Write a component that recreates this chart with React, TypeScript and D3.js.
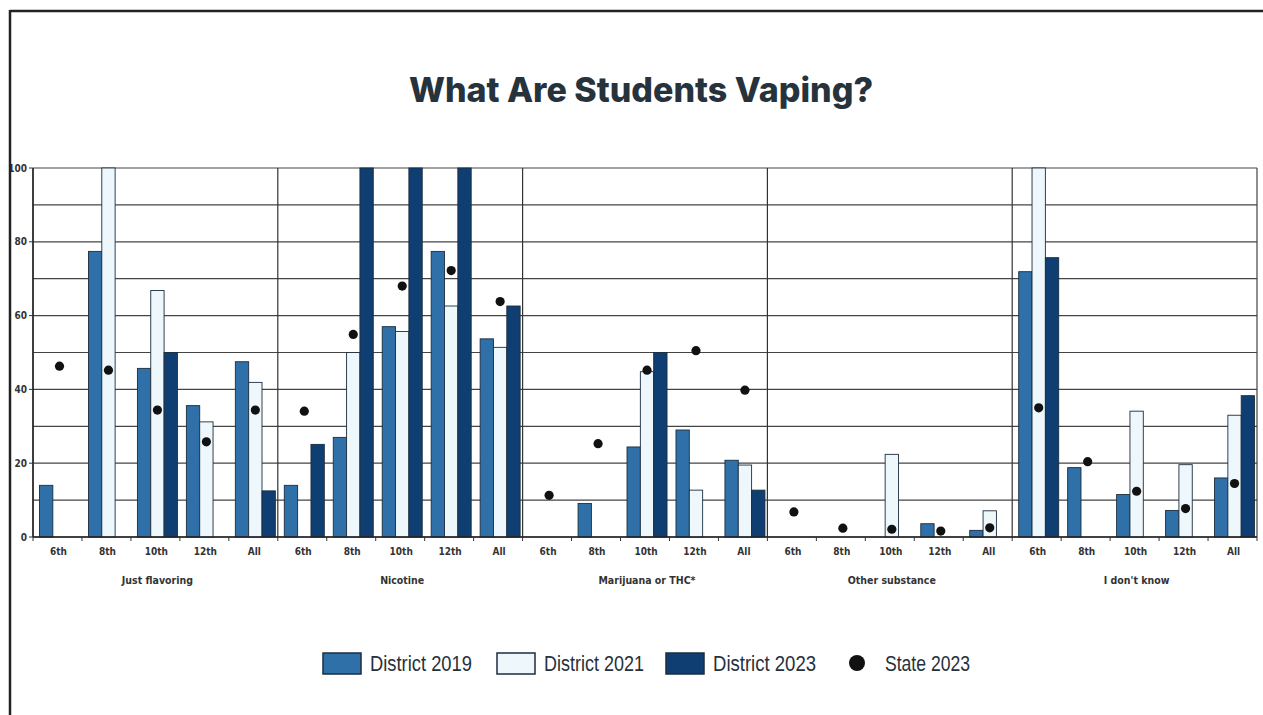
import React from 'react';
import * as d3 from 'd3';

const groups = ['Just flavoring', 'Nicotine', 'Marijuana or THC*', 'Other substance', "I don't know"];
const grades = ['6th', '8th', '10th', '12th', 'All'];
const seriesNames = ['District 2019', 'District 2021', 'District 2023'];

// one value per group x grade, in group order
const district2019 = [14, 77.4, 45.7, 35.6, 47.5, 14, 27, 57, 77.4, 53.7, 0, 9.1, 24.4, 29, 20.8, 0, 0, 0, 3.6, 1.8, 71.9, 18.8, 11.5, 7.2, 16];
const district2021 = [0, 100, 66.8, 31.2, 41.9, 0, 50, 55.7, 62.6, 51.4, 0, 0, 44.8, 12.7, 19.5, 0, 0, 22.4, 0, 7.1, 100, 0, 34.1, 19.6, 33];
const district2023 = [0, 0, 50, 0, 12.5, 25.1, 100, 100, 100, 62.6, 0, 0, 50, 0, 12.7, 0, 0, 0, 0, 0, 75.7, 0, 0, 0, 38.3];
const state2023 = [46.3, 45.2, 34.4, 25.8, 34.4, 34.1, 54.9, 68, 72.2, 63.8, 11.3, 25.3, 45.2, 50.5, 39.8, 6.8, 2.4, 2.1, 1.6, 2.5, 35, 20.4, 12.4, 7.7, 14.5];
const yTickLabels = [0, 20, 40, 60, 80, 100];

const colors = ['#3070a8', '#eef8fc', '#0f3f72'];
const narrow = '"DejaVu Sans Condensed", "Liberation Sans", sans-serif';
const legendFont = '"Liberation Sans", Arial, sans-serif';

const W = 1263;
const H = 715;
const left = 33;
const right = 1257;
const top = 168;
const bottom = 537;

const App: React.FC = () => {
  const keys = groups.flatMap(g => grades.map(gr => `${g}|${gr}`));
  const x = d3.scaleBand<string>().domain(keys).range([left, right]);
  const xg = d3.scaleBand<string>().domain(groups).range([left, right]);
  const xs = d3.scaleBand<string>().domain(seriesNames).range([6.5, 46.5]);
  const y = d3.scaleLinear().domain([0, 100]).range([bottom, top]);
  const seriesVals = [district2019, district2021, district2023];

  const legend = [
    { x: 323, label: 'District 2019', c: colors[0], w: 102 },
    { x: 497, label: 'District 2021', c: colors[1], w: 100 },
    { x: 666, label: 'District 2023', c: colors[2], w: 103 },
  ];

  return (
    <svg width={W} height={H} style={{ position: 'absolute', left: 0, top: 0, background: '#fff' }}>
      <text x={641} y={102} textAnchor="middle" fontFamily="Inter, Lato, sans-serif" fontWeight={800}
        fontSize={34} fill="#26333d">What Are Students Vaping?</text>

      {/* horizontal grid */}
      {d3.range(0, 101, 10).map(v => (
        <line key={v} x1={left} x2={right} y1={y(v)} y2={y(v)} stroke="#444" strokeWidth={1.2} />
      ))}
      {/* group separators */}
      {groups.map(g => (
        <line key={g} x1={xg(g)!} x2={xg(g)!} y1={top} y2={bottom} stroke="#333" strokeWidth={1.2} />
      ))}
      <line x1={right} x2={right} y1={top} y2={bottom} stroke="#444" strokeWidth={1.2} />

      {/* bars */}
      {seriesNames.map((s, si) =>
        keys.map((k, i) => {
          const v = seriesVals[si][i];
          if (!v) return null;
          return (
            <rect key={s + k} x={x(k)! + xs(s)!} y={y(v)} width={xs.bandwidth()} height={y(0) - y(v)}
              fill={colors[si]} stroke="#1c2d3e" strokeWidth={0.9} />
          );
        })
      )}

      {/* state dots */}
      {keys.map((k, i) => (
        <circle key={k} cx={x(k)! + xs('District 2021')! + xs.bandwidth() / 2} cy={y(state2023[i])} r={4.6} fill="#111" />
      ))}

      {/* axes */}
      <line x1={left} x2={right} y1={bottom} y2={bottom} stroke="#222" strokeWidth={1.4} />
      <line x1={left} x2={left} y1={top} y2={bottom} stroke="#222" strokeWidth={1.4} />
      {keys.concat(['end']).map((k, i) => {
        const xx = k === 'end' ? right : x(k)!;
        return <line key={'t' + i} x1={xx} x2={xx} y1={bottom} y2={bottom + 4} stroke="#333" strokeWidth={1} />;
      })}
      {yTickLabels.map(v => (
        <g key={'y' + v}>
          <line x1={left - 4} x2={left} y1={y(v)} y2={y(v)} stroke="#333" strokeWidth={1} />
          <text x={left - 6} y={y(v) + 3.5} textAnchor="end" fontFamily={narrow} fontWeight={700} fontSize={10}
            fill="#333">{v}</text>
        </g>
      ))}
      {keys.map(k => (
        <text key={'l' + k} x={x(k)! + x.bandwidth() / 2 + 1} y={555} textAnchor="middle" fontFamily={narrow}
          fontWeight={700} fontSize={10} fill="#333">{k.split('|')[1]}</text>
      ))}
      {groups.map(g => (
        <text key={'g' + g} x={xg(g)! + xg.bandwidth() / 2 + 2} y={584} textAnchor="middle" fontFamily={narrow}
          fontWeight={700} fontSize={10.5} fill="#333">{g}</text>
      ))}

      {/* legend */}
      {legend.map(d => (
        <g key={d.label}>
          <rect x={d.x} y={653} width={38} height={21} fill={d.c} stroke="#1c2d3e" strokeWidth={1.5} />
          <text x={d.x + 47} y={671} fontFamily={legendFont} fontSize={22} fill="#26313b"
            textLength={d.w} lengthAdjust="spacingAndGlyphs">{d.label}</text>
        </g>
      ))}
      <circle cx={857} cy={663} r={8} fill="#111" />
      <text x={885} y={671} fontFamily={legendFont} fontSize={22} fill="#26313b" textLength={85}
        lengthAdjust="spacingAndGlyphs">State 2023</text>

      {/* outer frame */}
      <line x1={10} x2={W} y1={11} y2={11} stroke="#222" strokeWidth={2.5} />
      <line x1={10} x2={10} y1={10} y2={H} stroke="#222" strokeWidth={2.5} />
    </svg>
  );
};

export default App;
